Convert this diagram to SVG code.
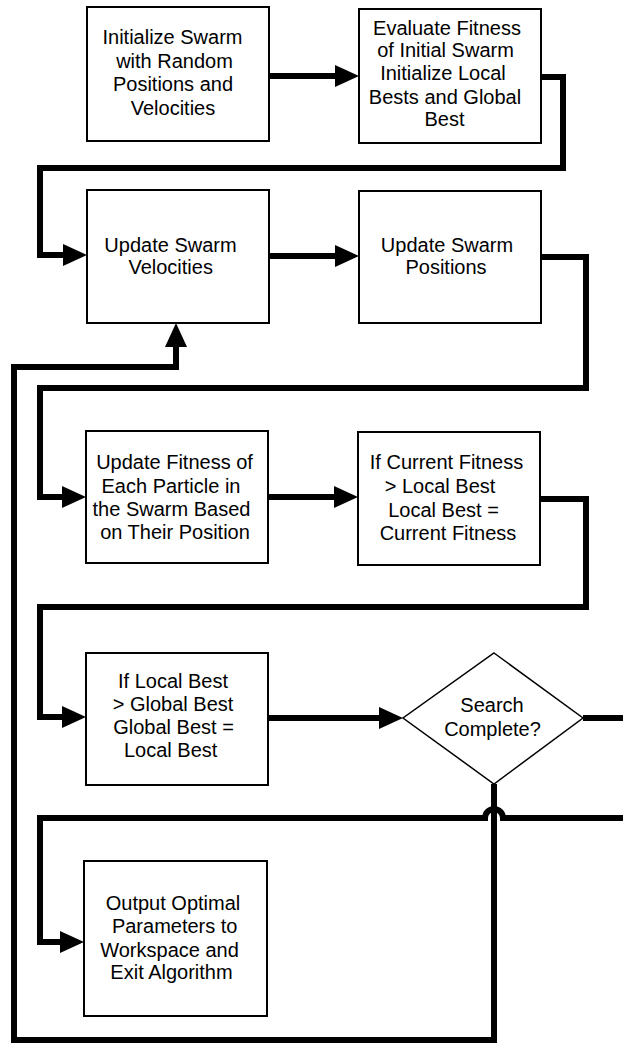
<svg xmlns="http://www.w3.org/2000/svg" width="623" height="1045" viewBox="0 0 623 1045">
<style>
.box{fill:#fff;stroke:#000;stroke-width:2}
.dia{fill:#fff;stroke:#000;stroke-width:1.5}
.t{font-family:"Liberation Sans",Arial,sans-serif;font-size:20px;fill:#000;text-anchor:middle}
.c{fill:none;stroke:#000;stroke-width:6;stroke-linejoin:miter}
</style>
<defs>
<marker id="ah" markerUnits="userSpaceOnUse" markerWidth="24" markerHeight="22" refX="0" refY="11" orient="auto" overflow="visible">
<path d="M0,0 L24,11 L0,22 z" fill="#000"/>
</marker>
</defs>
<rect width="623" height="1045" fill="#fff"/>
<g id="connectors">
<path class="c" d="M269 76 H335" marker-end="url(#ah)"/>
<path class="c" d="M541 77 H563 V168 H40 V255 H63" marker-end="url(#ah)"/>
<path class="c" d="M269 256 H335" marker-end="url(#ah)"/>
<path class="c" d="M541 257 H586 V388 H40 V497 H62" marker-end="url(#ah)"/>
<path class="c" d="M268 497 H334" marker-end="url(#ah)"/>
<path class="c" d="M540 499 H586 V607 H40 V717 H62" marker-end="url(#ah)"/>
<path class="c" d="M268 718 H379" marker-end="url(#ah)"/>
<path class="c" d="M583 718 H640 V818 H503 A9 9 0 0 0 485 818 H40 V942 H60" marker-end="url(#ah)"/>
<path class="c" d="M494 784 V1040 H14 V367 H176 V347" marker-end="url(#ah)"/>
</g>
<g id="n1">
<rect class="box" x="87" y="7" width="182" height="134"/>
<text class="t"><tspan x="172.5" y="44">Initialize Swarm</tspan><tspan x="174.5" y="67.5">with Random</tspan><tspan x="173" y="91">Positions and</tspan><tspan x="173" y="114.5">Velocities</tspan></text>
</g>
<g id="n2">
<rect class="box" x="359" y="9" width="182" height="134"/>
<text class="t"><tspan x="447" y="34.5">Evaluate Fitness</tspan><tspan x="445.5" y="57">of Initial Swarm</tspan><tspan x="443" y="80">Initialize Local</tspan><tspan x="445" y="103.5">Bests and Global</tspan><tspan x="444.5" y="126">Best</tspan></text>
</g>
<g id="n3">
<rect class="box" x="87" y="190" width="182" height="133"/>
<text class="t"><tspan x="170.5" y="252">Update Swarm</tspan><tspan x="170.7" y="274">Velocities</tspan></text>
</g>
<g id="n4">
<rect class="box" x="359" y="191" width="182" height="132"/>
<text class="t"><tspan x="447" y="252">Update Swarm</tspan><tspan x="446" y="273.5">Positions</tspan></text>
</g>
<g id="n5">
<rect class="box" x="86" y="431" width="182" height="132"/>
<text class="t"><tspan x="174.5" y="469.3">Update Fitness of</tspan><tspan x="171" y="492.7">Each Particle in</tspan><tspan x="171.5" y="516">the Swarm Based</tspan><tspan x="175" y="539">on Their Position</tspan></text>
</g>
<g id="n6">
<rect class="box" x="358" y="432" width="182" height="133"/>
<text class="t"><tspan x="446.5" y="469.3">If Current Fitness</tspan><tspan x="440" y="492.7">&gt; Local Best</tspan><tspan x="443.5" y="516.5">Local Best =</tspan><tspan x="448" y="540">Current Fitness</tspan></text>
</g>
<g id="n7">
<rect class="box" x="86" y="653" width="182" height="132"/>
<text class="t"><tspan x="173" y="688">If Local Best</tspan><tspan x="173" y="711">&gt; Global Best</tspan><tspan x="173.5" y="734.3">Global Best =</tspan><tspan x="170.7" y="757">Local Best</tspan></text>
</g>
<g id="n8">
<polygon class="dia" points="494,653 583,718 494,784 403,718"/>
<text class="t"><tspan x="492" y="712">Search</tspan><tspan x="492.5" y="735.5">Complete?</tspan></text>
</g>
<g id="n9">
<rect class="box" x="84" y="861" width="183" height="155"/>
<text class="t"><tspan x="173" y="910">Output Optimal</tspan><tspan x="174.7" y="933.3">Parameters to</tspan><tspan x="169.5" y="956.7">Workspace and</tspan><tspan x="171.5" y="979">Exit Algorithm</tspan></text>
</g>
</svg>
